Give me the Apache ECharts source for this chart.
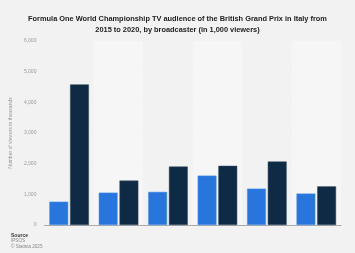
<!DOCTYPE html>
<html>
<head>
<meta charset="utf-8">
<script src="https://cdn.jsdelivr.net/npm/echarts@6/dist/echarts.min.js"></script>
<style>
  html, body { margin: 0; padding: 0; background: #f2f2f2; }
  #chart { width: 355px; height: 253px; }
</style>
</head>
<body>
<div id="chart"></div>
<script>
const years = ['2015', '2016', '2017', '2018', '2019', '2020']
const seriesA = [760, 1055, 1080, 1610, 1185, 1025]
const seriesB = [4585, 1450, 1905, 1930, 2070, 1260]
const yTicks = [0, 1000, 2000, 3000, 4000, 5000, 6000]

const chart = echarts.init(document.getElementById('chart'))
const option = {
  backgroundColor: '#f2f2f2',
  animation: false,
  title: {
    text: 'Formula One World Championship TV audience of the British Grand Prix in Italy from\n2015 to 2020, by broadcaster (in 1,000 viewers)',
    left: 'center',
    top: 9,
    textStyle: {
      fontFamily: 'Liberation Sans',
      fontSize: 7.4,
      fontWeight: 'bold',
      color: '#222',
      lineHeight: 10.4
    }
  },
  grid: {
    left: 44,
    right: 14,
    top: 41,
    bottom: 28
  },
  xAxis: {
    type: 'category',
    data: years,
    axisLine: { lineStyle: { color: '#aaa', width: 1 } },
    axisTick: { show: false },
    axisLabel: { show: false },
    splitArea: {
      show: true,
      areaStyle: { color: ['#f2f2f2', '#f6f6f6'] }
    }
  },
  yAxis: {
    type: 'value',
    min: yTicks[0],
    max: yTicks[yTicks.length - 1],
    interval: 1000,
    name: 'Number of viewers in thousands',
    nameLocation: 'middle',
    nameGap: 24,
    nameTextStyle: { fontFamily: 'Liberation Sans', fontSize: 5, color: '#999' },
    axisLine: { show: false },
    axisTick: { show: false },
    axisLabel: {
      fontFamily: 'Liberation Sans',
      fontSize: 5,
      color: '#999',
      margin: 8,
      formatter: v => v.toLocaleString('en-US')
    },
    splitLine: { lineStyle: { color: '#dcdcdc', type: [8, 3], width: 1 } }
  },
  series: [
    {
      name: 'A',
      type: 'bar',
      data: seriesA,
      barGap: '10%',
      barCategoryGap: '20%',
      itemStyle: { color: '#2876dd', borderColor: '#4a8ee6', borderWidth: 0.5 }
    },
    {
      name: 'B',
      type: 'bar',
      data: seriesB,
      itemStyle: { color: '#0f2a44', borderColor: '#33495f', borderWidth: 0.5 }
    }
  ],
  graphic: [
    {
      type: 'text',
      left: 11,
      top: 233,
      style: {
        text: 'Source',
        fontFamily: 'Liberation Sans',
        fontSize: 5,
        fontWeight: 'bold',
        fill: '#333'
      }
    },
    {
      type: 'text',
      left: 11,
      top: 238.5,
      style: {
        text: 'IPSOS\n© Statista 2025',
        fontFamily: 'Liberation Sans',
        fontSize: 4.6,
        lineHeight: 5.4,
        fill: '#888'
      }
    }
  ]
}
chart.setOption(option)
</script>
</body>
</html>
